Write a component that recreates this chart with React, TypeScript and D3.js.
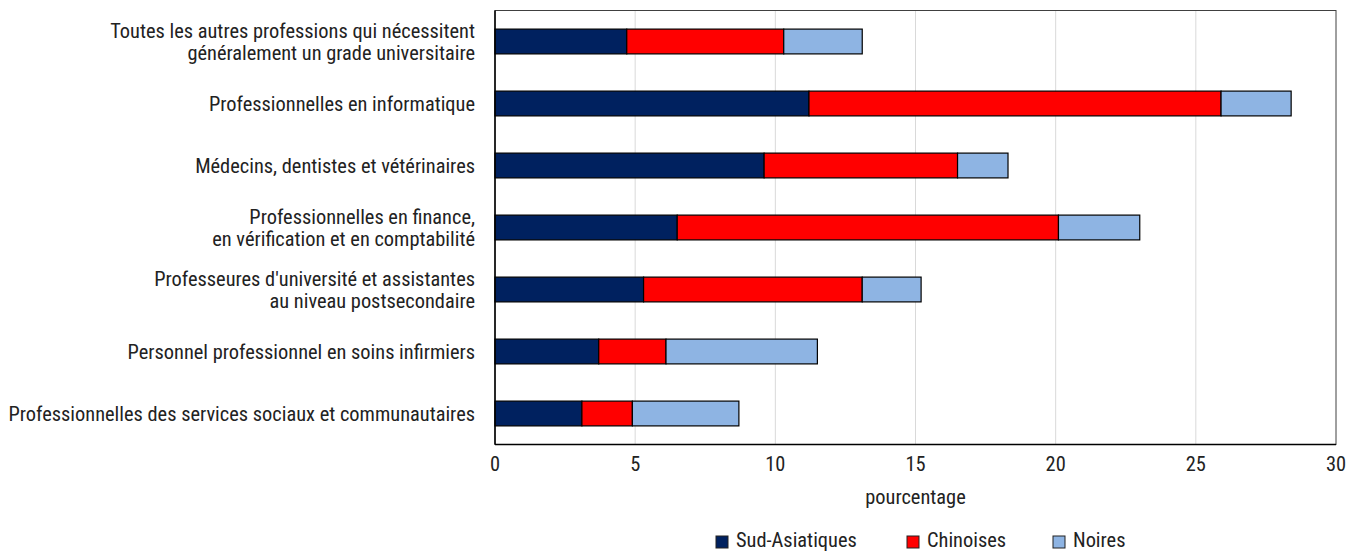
import React, { useEffect, useRef } from 'react';
import * as d3 from 'd3';

const categories = [
  ['Toutes les autres professions qui nécessitent', 'généralement un grade universitaire'],
  ['Professionnelles en informatique'],
  ['Médecins, dentistes et vétérinaires'],
  ['Professionnelles en finance,', 'en vérification et en comptabilité'],
  ["Professeures d'université et assistantes", 'au niveau postsecondaire'],
  ['Personnel professionnel en soins infirmiers'],
  ['Professionnelles des services sociaux et communautaires'],
];
const seriesNames = ['Sud-Asiatiques', 'Chinoises', 'Noires'];
const sudAsiatiques = [4.7, 11.2, 9.6, 6.5, 5.3, 3.7, 3.1];
const chinoises = [5.6, 14.7, 6.9, 13.6, 7.8, 2.4, 1.8];
const noires = [2.8, 2.5, 1.8, 2.9, 2.1, 5.4, 3.8];
const xTicks = [0, 5, 10, 15, 20, 25, 30];
const colors = ['#00215f', '#ff0000', '#8eb4e3'];

const FONT = '"Liberation Sans Narrow", "Roboto Condensed", "Liberation Sans", sans-serif';
const FS = 20.4;

const App: React.FC = () => {
  const ref = useRef<SVGSVGElement | null>(null);

  useEffect(() => {
    const svg = d3.select(ref.current);
    svg.selectAll('*').remove();

    const margin = { top: 10.5, left: 495, right: 1336, bottom: 444.5 };
    const x = d3.scaleLinear().domain([0, 30]).range([margin.left, margin.right]);
    const y = d3.scaleBand<number>()
      .domain(categories.map((_, i) => i))
      .range([margin.top, margin.bottom])
      .paddingInner(0.6)
      .paddingOuter(0.3);

    // gridlines
    svg.append('g')
      .selectAll('line')
      .data(xTicks.slice(1, -1))
      .enter().append('line')
      .attr('x1', d => x(d)).attr('x2', d => x(d))
      .attr('y1', margin.top).attr('y2', margin.bottom)
      .attr('stroke', '#d9d9d9').attr('stroke-width', 1);

    // plot border
    svg.append('rect')
      .attr('x', margin.left).attr('y', margin.top)
      .attr('width', margin.right - margin.left)
      .attr('height', margin.bottom - margin.top)
      .attr('fill', 'none').attr('stroke', '#404040').attr('stroke-width', 1);

    const data = categories.map((_, i) => ({
      i,
      'Sud-Asiatiques': sudAsiatiques[i],
      Chinoises: chinoises[i],
      Noires: noires[i],
    }));
    const stacked = d3.stack<any>().keys(seriesNames)(data);

    stacked.forEach((layer, k) => {
      svg.append('g')
        .selectAll('rect')
        .data(layer)
        .enter().append('rect')
        .attr('x', d => x(d[0]))
        .attr('y', d => y(d.data.i) || 0)
        .attr('width', d => x(d[1]) - x(d[0]))
        .attr('height', y.bandwidth())
        .attr('fill', colors[k])
        .attr('stroke', '#000')
        .attr('stroke-width', 1.2);
    });

    // axis lines
    svg.append('line')
      .attr('x1', margin.left).attr('x2', margin.left)
      .attr('y1', margin.top).attr('y2', margin.bottom)
      .attr('stroke', '#000').attr('stroke-width', 1.5);
    svg.append('line')
      .attr('x1', margin.left).attr('x2', margin.right)
      .attr('y1', margin.bottom).attr('y2', margin.bottom)
      .attr('stroke', '#000').attr('stroke-width', 1.5);

    // x tick labels
    svg.append('g')
      .selectAll('text')
      .data(xTicks)
      .enter().append('text')
      .attr('x', d => x(d))
      .attr('y', 471)
      .attr('text-anchor', 'middle')
      .attr('font-family', FONT)
      .attr('font-size', FS)
      .attr('fill', '#222')
      .text(d => String(d));

    // category labels
    categories.forEach((lines, i) => {
      const cy = (y(i) || 0) + y.bandwidth() / 2;
      const lh = 22;
      const t = svg.append('text')
        .attr('text-anchor', 'end')
        .attr('font-family', FONT)
        .attr('font-size', FS)
        .attr('fill', '#222');
      lines.forEach((ln, j) => {
        t.append('tspan')
          .attr('x', 475)
          .attr('y', cy + 7 + (j - (lines.length - 1) / 2) * lh)
          .text(ln);
      });
    });

    // axis title
    svg.append('text')
      .attr('x', x(15))
      .attr('y', 504)
      .attr('text-anchor', 'middle')
      .attr('font-family', FONT)
      .attr('font-size', FS)
      .attr('fill', '#222')
      .text('pourcentage');

    // legend
    const legendX = [716, 907, 1053];
    seriesNames.forEach((name, k) => {
      svg.append('rect')
        .attr('x', legendX[k]).attr('y', 536)
        .attr('width', 12).attr('height', 12)
        .attr('fill', colors[k])
        .attr('stroke', '#222').attr('stroke-width', 1);
      svg.append('text')
        .attr('x', legendX[k] + 20)
        .attr('y', 547)
        .attr('font-family', FONT)
        .attr('font-size', FS)
        .attr('fill', '#222')
        .text(name);
    });
  }, []);

  return (
    <svg
      ref={ref}
      width={1359}
      height={553}
      style={{ position: 'absolute', left: 0, top: 0, background: '#fff' }}
    />
  );
};

export default App;
